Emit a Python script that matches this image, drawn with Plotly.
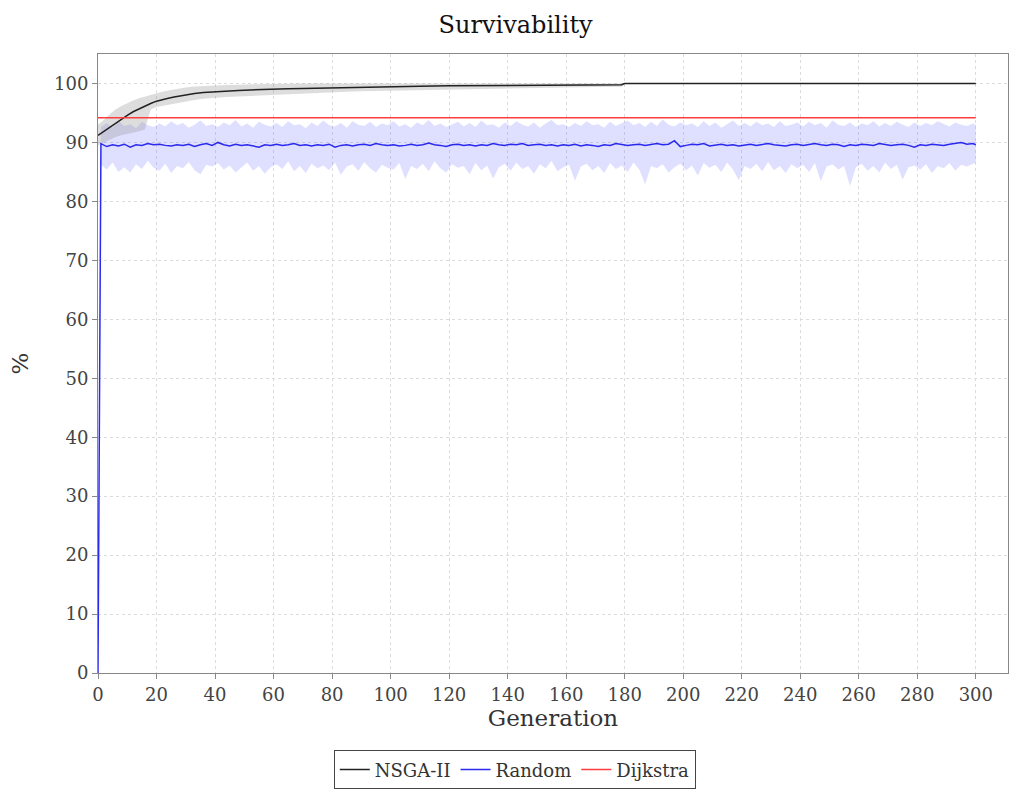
import plotly.graph_objects as go

# ---------------- data ----------------
nsga_gen = [0, 2, 4, 6, 8, 10, 12, 14, 16, 18, 20, 22, 24, 26, 28, 30, 33, 36, 40, 44,
            48, 52, 56, 60, 65, 70, 75, 80, 85, 90, 100, 110, 120, 130, 140, 150, 160,
            170, 179, 180, 300]
nsga_mean = [91.2, 91.9, 92.6, 93.3, 94.0, 94.6, 95.2, 95.7, 96.2, 96.6, 97.0, 97.3, 97.5,
             97.7, 97.9, 98.1, 98.3, 98.45, 98.6, 98.7, 98.8, 98.9, 99.0, 99.05, 99.1,
             99.15, 99.2, 99.3, 99.4, 99.45, 99.5, 99.55, 99.6, 99.62, 99.65, 99.7, 99.72,
             99.75, 99.78, 100.0, 100.0]
nsga_upper = [93.0, 93.8, 94.8, 95.6, 96.2, 96.7, 97.1, 97.5, 97.8, 98.0, 98.3, 98.6, 98.8,
              99.0, 99.2, 99.3, 99.5, 99.6, 99.7, 99.75, 99.8, 99.85, 99.9, 99.95, 100.0,
              100.0, 100.0, 100.0, 100.0, 100.0, 100.0, 100.0, 100.0, 100.0, 100.0, 100.0,
              100.0, 100.0, 100.0, 100.0, 100.0]
nsga_lower = [89.5, 90.0, 90.5, 90.9, 91.2, 91.4, 91.6, 91.9, 92.2, 95.6, 96.0, 96.2, 96.4,
              96.6, 96.8, 97.0, 97.2, 97.4, 97.6, 97.7, 97.8, 97.9, 98.0, 98.1, 98.2, 98.3,
              98.4, 98.5, 98.6, 98.7, 98.8, 98.9, 99.0, 99.1, 99.2, 99.3, 99.35, 99.4,
              99.45, 100.0, 100.0]

random_gen = [0] + list(range(1, 300, 2)) + [300]
random_mean = [0.0,
    89.8, 89.3, 89.6, 89.4, 89.7, 89.2, 89.6, 89.5, 89.8, 89.6,
    89.7, 89.5, 89.4, 89.6, 89.5, 89.7, 89.3, 89.6, 89.8, 89.5,
    90.0, 89.6, 89.4, 89.7, 89.5, 89.6, 89.4, 89.2, 89.6, 89.5,
    89.7, 89.5, 89.6, 89.8, 89.5, 89.6, 89.4, 89.6, 89.5, 89.7,
    89.2, 89.5, 89.6, 89.4, 89.6, 89.7, 89.5, 89.8, 89.6, 89.5,
    89.6, 89.4, 89.5, 89.7, 89.5, 89.6, 89.9, 89.6, 89.5, 89.3,
    89.6, 89.7, 89.5, 89.6, 89.4, 89.6, 89.5, 89.8, 89.6, 89.5,
    89.7, 89.6, 89.8, 89.5, 89.6, 89.7, 89.5, 89.6, 89.4, 89.6,
    89.5, 89.7, 89.4, 89.6, 89.5, 89.3, 89.6, 89.5, 89.8, 89.6,
    89.5, 89.6, 89.7, 89.5, 89.6, 89.8, 89.6, 89.7, 90.3, 89.3,
    89.5, 89.7, 89.6, 89.8, 89.4, 89.6, 89.7, 89.5, 89.6, 89.4,
    89.6, 89.7, 89.5, 89.6, 89.8, 89.6, 89.5, 89.4, 89.6, 89.7,
    89.5, 89.6, 89.8, 89.6, 89.5, 89.7, 89.6, 89.3, 89.6, 89.5,
    89.7, 89.6, 89.5, 89.8, 89.6, 89.5, 89.6, 89.7, 89.5, 89.2,
    89.6, 89.5, 89.7, 89.6, 89.5, 89.7, 89.9, 90.0, 89.7, 89.8,
    89.6]
random_upper = [0.0,
    92.6, 93.3, 92.5, 93.6, 92.8, 93.1, 92.4, 93.5, 92.9, 92.6,
    93.2, 92.7, 93.6, 92.9, 93.3, 92.5, 93.0, 93.7, 92.8, 93.1,
    92.6, 93.4, 92.9, 93.8, 92.7, 93.2, 92.5, 93.5, 93.0, 92.7,
    93.3, 92.6, 93.6, 92.9, 93.1, 92.4, 93.4, 92.8, 93.7, 92.9,
    92.7, 93.3, 92.5, 93.6, 93.0, 92.8, 93.5, 92.6, 93.2, 92.9,
    93.6, 92.7, 93.1, 92.5, 93.4, 92.9, 93.8, 92.8, 93.2, 92.6,
    93.0, 93.5, 92.7, 93.3, 92.6, 93.7, 92.9, 93.1, 92.5, 93.4,
    92.8, 93.6, 93.0, 92.7, 93.4, 92.5, 93.2, 93.8, 92.9, 93.1,
    92.6, 93.3, 92.8, 93.6, 92.9, 93.1, 92.5, 93.5, 92.8, 93.2,
    93.7, 92.9, 93.3, 92.6, 93.5, 92.8, 93.9, 93.0, 92.7, 93.4,
    92.9, 93.2, 92.6, 93.6, 92.8, 93.4, 92.5, 93.1, 93.7, 92.8,
    93.3, 92.7, 93.5, 92.9, 93.2, 92.6, 93.6, 92.8, 93.0, 93.4,
    92.7, 93.5, 92.9, 93.3, 92.5, 93.7, 93.0, 92.8, 93.4, 92.6,
    93.2, 92.9, 93.6, 92.7, 93.3, 92.8, 93.5, 93.0, 92.6, 93.4,
    92.8, 93.3, 92.9, 93.6, 93.1, 92.7, 93.4, 93.0, 92.8, 93.2,
    93.0]
random_lower = [0.0,
    86.2, 85.4, 86.6, 85.0, 85.8, 84.9, 86.3, 85.5, 86.9, 85.7,
    85.2, 86.4, 84.8, 86.0, 85.6, 86.7, 85.3, 84.6, 86.2, 85.9,
    86.5, 85.4, 86.1, 84.9, 85.7, 86.6, 85.2, 86.0, 84.7, 85.8,
    86.3, 85.5, 86.8, 85.1, 86.0, 84.8, 86.4, 85.6, 86.1, 85.3,
    86.6, 84.5, 85.9, 86.3, 85.2, 86.7, 85.6, 84.9, 86.2, 85.7,
    85.4, 86.5, 83.8, 86.0, 85.5, 86.4, 85.1, 86.8, 85.6, 84.9,
    86.3, 85.7, 86.0, 84.6, 86.5, 85.3, 86.1, 83.9, 85.8, 86.4,
    85.2, 86.6, 85.5, 86.0, 84.7, 86.3, 85.6, 86.9, 85.1, 85.8,
    86.2, 83.5, 85.9, 86.4, 85.3, 86.0, 84.8, 86.5, 85.5, 86.1,
    85.0, 86.6, 85.4, 82.9, 86.0, 85.6, 86.3, 84.9, 85.8, 86.4,
    85.3, 86.1, 84.4, 86.5, 85.7, 86.2, 85.0, 86.6, 85.4, 83.6,
    86.0, 85.5, 86.4, 85.1, 86.7, 85.3, 86.0, 84.8, 86.3, 85.6,
    86.2, 85.0, 86.5, 83.4, 85.9, 86.3, 85.4, 86.0, 82.6, 85.8,
    86.4, 85.2, 86.0, 84.9, 86.6, 85.5, 86.2, 83.7, 85.8, 86.1,
    85.4, 86.3, 84.8, 86.0, 85.6, 86.5, 85.2, 86.2, 85.9, 86.4,
    86.6]

dijkstra_gen = [0, 300]
dijkstra_value = [94.2, 94.2]

x_ticks = list(range(0, 301, 20))
y_ticks = list(range(0, 101, 10))

# ---------------- figure ----------------
FONT = "DejaVu Serif"
fig = go.Figure()

# bands
fig.add_trace(go.Scatter(x=random_gen, y=random_upper, mode="lines",
                         line=dict(width=0), showlegend=False, hoverinfo="skip"))
fig.add_trace(go.Scatter(x=random_gen, y=random_lower, mode="lines",
                         line=dict(width=0), fill="tonexty",
                         fillcolor="rgba(110,110,255,0.22)", showlegend=False,
                         hoverinfo="skip"))
fig.add_trace(go.Scatter(x=nsga_gen, y=nsga_upper, mode="lines",
                         line=dict(width=0), showlegend=False, hoverinfo="skip"))
fig.add_trace(go.Scatter(x=nsga_gen, y=nsga_lower, mode="lines",
                         line=dict(width=0), fill="tonexty",
                         fillcolor="rgba(150,150,150,0.32)", showlegend=False,
                         hoverinfo="skip"))

# lines
fig.add_trace(go.Scatter(x=nsga_gen, y=nsga_mean, mode="lines", name="NSGA-II",
                         line=dict(color="#222222", width=1.5)))
fig.add_trace(go.Scatter(x=random_gen, y=random_mean, mode="lines", name="Random",
                         line=dict(color="#2a2aee", width=1.5)))
fig.add_trace(go.Scatter(x=dijkstra_gen, y=dijkstra_value, mode="lines", name="Dijkstra",
                         line=dict(color="#ff3b3b", width=1.5)))

fig.update_layout(
    width=1011, height=789,
    paper_bgcolor="white", plot_bgcolor="white",
    margin=dict(l=98, r=3, t=54, b=116, autoexpand=False),
    font=dict(family=FONT, color="#333333"),
    title=dict(text="Survivability", x=0.51, xanchor="center", y=1 - 25 / 789,
               yanchor="middle", font=dict(family=FONT, size=24, color="#111111")),
    showlegend=True,
    legend=dict(orientation="h", x=0.458, xanchor="center", y=-0.125, yanchor="top",
                bordercolor="#444444", borderwidth=1, bgcolor="white",
                font=dict(family=FONT, size=18, color="#333333"),
                itemwidth=30, traceorder="normal", tracegroupgap=0),
)
fig.update_xaxes(
    range=[0, 311], tickvals=x_ticks, ticks="outside", ticklen=5, tickcolor="#888888",
    showline=True, linecolor="#888888", linewidth=1, mirror=True, automargin=False,
    showgrid=True, gridcolor="#dcdcdc", griddash="3px,3px", gridwidth=1,
    zeroline=False,
    tickfont=dict(family=FONT, size=18, color="#444444"),
    title=dict(text="Generation", font=dict(family=FONT, size=23, color="#333333"),
               standoff=4),
)
fig.update_yaxes(
    range=[0, 105], tickvals=y_ticks, ticks="outside", ticklen=5, tickcolor="#888888",
    showline=True, linecolor="#888888", linewidth=1, mirror=True, automargin=False,
    showgrid=True, gridcolor="#dcdcdc", griddash="3px,3px", gridwidth=1,
    zeroline=False,
    tickfont=dict(family=FONT, size=18, color="#444444"),
    title=dict(text="%", font=dict(family=FONT, size=23, color="#333333"), standoff=18),
)

fig.write_html("out.html", config={"displayModeBar": False},
               post_script="document.body.style.margin='0';")
